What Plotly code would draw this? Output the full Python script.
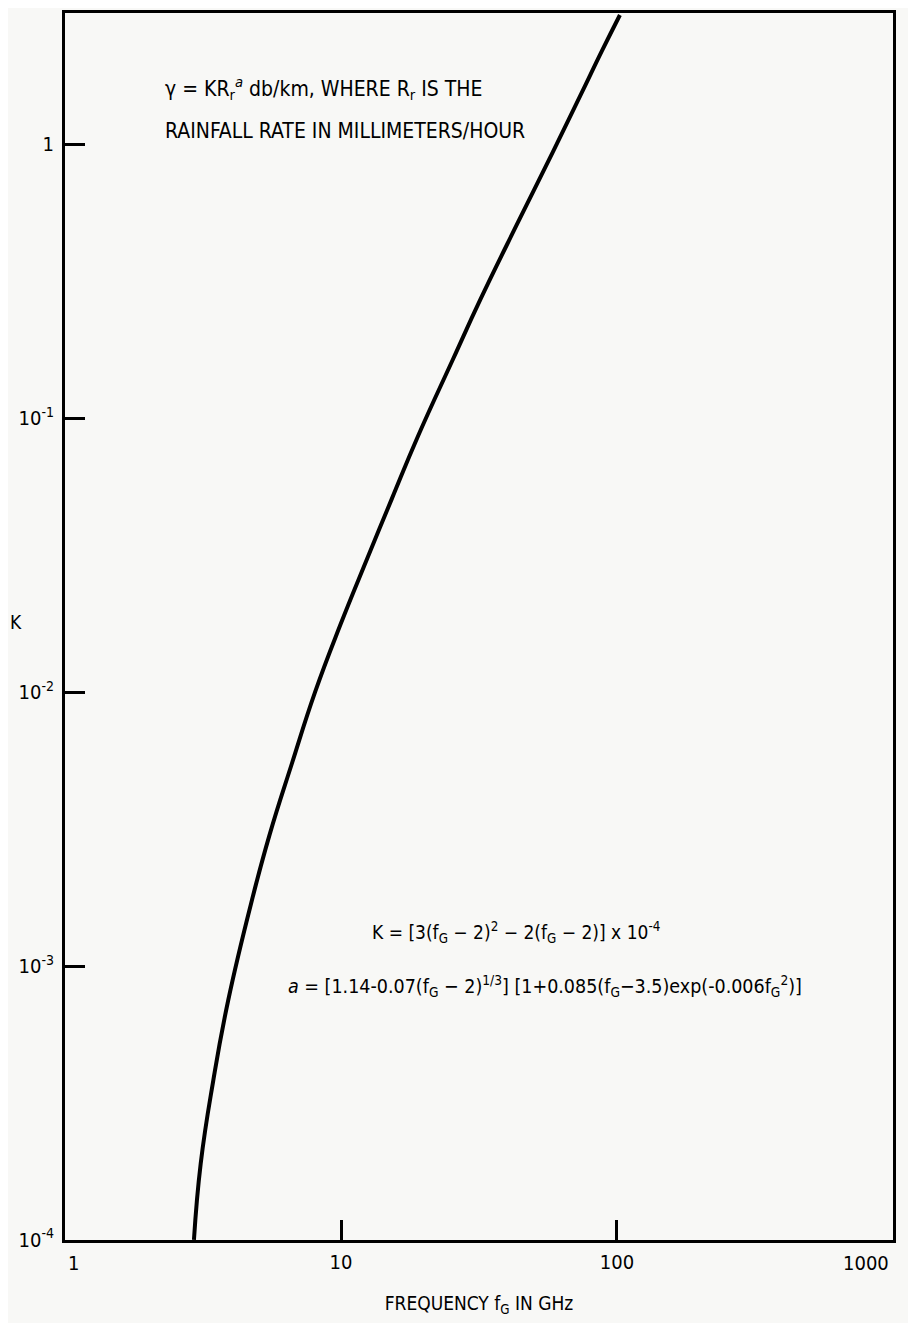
import plotly.graph_objects as go

# Values
freq_ghz = [2.93, 3.10, 3.44, 3.90, 4.76, 5.50, 6.64, 8.05, 9.92, 12.4, 15.3, 19.0,
            25.5, 31.9, 43.8, 58.6, 73.5, 88.3, 102.5]
k_vals = [1.0e-4, 1.9e-4, 3.8e-4, 7.5e-4, 1.75e-3, 3.0e-3, 5.5e-3, 1.0e-2, 1.75e-2,
          3.05e-2, 5.1e-2, 8.6e-2, 0.165, 0.27, 0.52, 0.94, 1.50, 2.2, 2.97]

x_tick_vals = [1, 10, 100, 1000]
x_tick_text = ["1", "10", "100", "1000"]
y_tick_vals = [1e-4, 1e-3, 1e-2, 1e-1, 1]
y_tick_text = ["10<sup>-4</sup>", "10<sup>-3</sup>", "10<sup>-2</sup>", "10<sup>-1</sup>", "1"]

FONT = "Liberation Sans Narrow, DejaVu Sans Condensed, Arial Narrow, sans-serif"
BG = "#f8f8f6"

fig = go.Figure()
fig.add_trace(go.Scatter(x=freq_ghz, y=k_vals, mode="lines",
                         line=dict(color="black", width=4, shape="spline", smoothing=1.3),
                         showlegend=False, hoverinfo="skip"))

# inner x tick labels drawn by the axis; the two end labels sit inside the frame
axis_text = ["" if i in (0, len(x_tick_text) - 1) else t for i, t in enumerate(x_tick_text)]

fig.update_layout(
    width=900, height=1315,
    margin=dict(l=57, r=15, t=2, b=83),
    paper_bgcolor=BG, plot_bgcolor=BG,
    font=dict(family=FONT, size=20, color="#000"),
    xaxis=dict(type="log", range=[-0.0005, 3.0005], tickvals=x_tick_vals, ticktext=axis_text,
               ticks="inside", ticklen=20, tickwidth=3, tickcolor="black",
               showline=True, linewidth=3, linecolor="black", mirror=True,
               showgrid=False, zeroline=False, ticklabelstandoff=2,
               title=dict(text="FREQUENCY f<sub>G</sub> IN GHz", standoff=24,
                          font=dict(family=FONT, size=19))),
    yaxis=dict(type="log", range=[-4.0005, 0.48], tickvals=y_tick_vals, ticktext=y_tick_text,
               ticks="inside", ticklen=20, tickwidth=3, tickcolor="black",
               showline=True, linewidth=3, linecolor="black", mirror=True,
               showgrid=False, zeroline=False, ticklabelstandoff=4),
)

fig.add_annotation(xref="x", yref="paper", x=0, y=0, xanchor="left", yanchor="top",
                   yshift=-9, xshift=1, showarrow=False, text=x_tick_text[0],
                   font=dict(family=FONT, size=20))
fig.add_annotation(xref="x", yref="paper", x=3, y=0, xanchor="right", yanchor="top",
                   yshift=-9, xshift=-2, showarrow=False, text=x_tick_text[-1],
                   font=dict(family=FONT, size=20))

fig.add_annotation(xref="paper", yref="paper", x=(8 - 65) / 828, y=(1240 - 620) / 1230,
                   xanchor="left", yanchor="middle", showarrow=False,
                   text="K", font=dict(family=FONT, size=19))
fig.add_annotation(xref="paper", yref="paper", x=(163 - 65) / 828, y=(1240 - 85) / 1230,
                   xanchor="left", yanchor="middle", showarrow=False,
                   text="γ = KR<sub>r</sub><sup><i>a</i></sup> db/km, WHERE R<sub>r</sub> IS THE",
                   font=dict(family=FONT, size=21))
fig.add_annotation(xref="paper", yref="paper", x=(163 - 65) / 828, y=(1240 - 128) / 1230,
                   xanchor="left", yanchor="middle", showarrow=False,
                   text="RAINFALL RATE IN MILLIMETERS/HOUR",
                   font=dict(family=FONT, size=21))
fig.add_annotation(xref="paper", yref="paper", x=(370 - 65) / 828, y=(1240 - 932) / 1230,
                   xanchor="left", yanchor="middle", showarrow=False,
                   text="K = [3(f<sub>G</sub> − 2)<sup>2</sup> − 2(f<sub>G</sub> − 2)] x 10<sup>-4</sup>",
                   font=dict(family=FONT, size=19))
fig.add_annotation(xref="paper", yref="paper", x=(286 - 65) / 828, y=(1240 - 985) / 1230,
                   xanchor="left", yanchor="middle", showarrow=False,
                   text="<i>a</i> = [1.14-0.07(f<sub>G</sub> − 2)<sup>1/3</sup>] [1+0.085(f<sub>G</sub>−3.5)exp(-0.006f<sub>G</sub><sup>2</sup>)]",
                   font=dict(family=FONT, size=19.5))

fig.write_html("out.html")
